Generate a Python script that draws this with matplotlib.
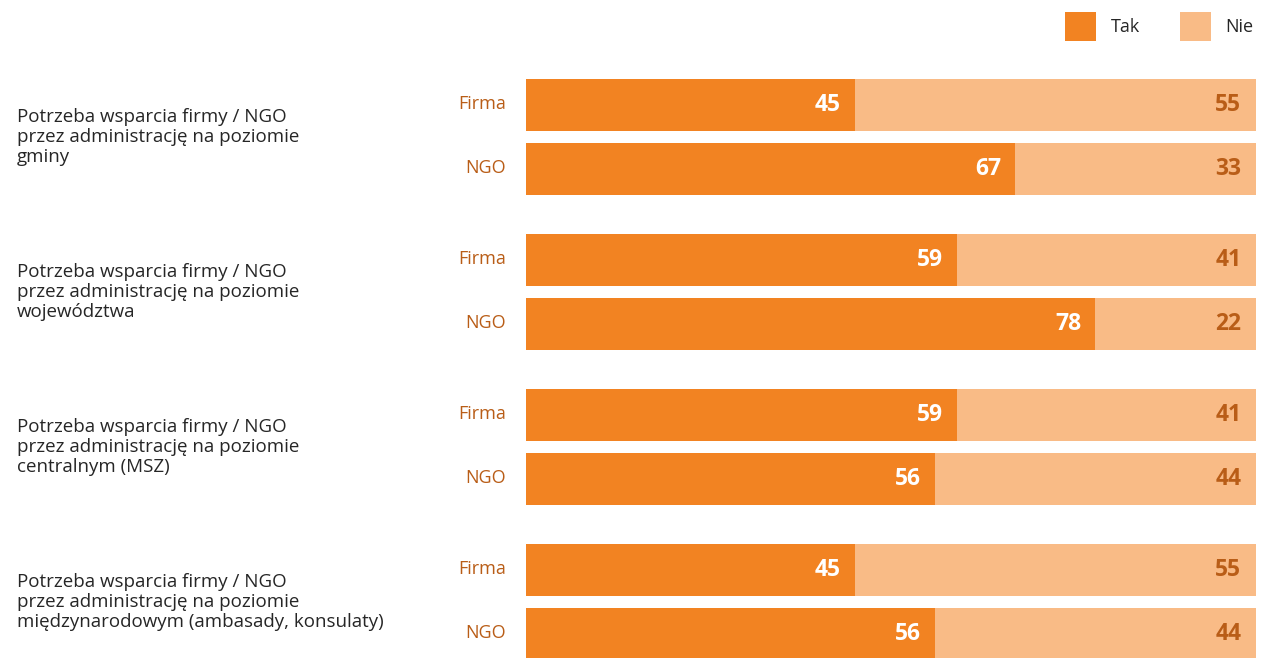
import matplotlib
matplotlib.use('Agg')
import matplotlib.pyplot as plt

# data
groups = [
    'Potrzeba wsparcia firmy / NGO\nprzez administrację na poziomie\ngminy',
    'Potrzeba wsparcia firmy / NGO\nprzez administrację na poziomie\nwojewództwa',
    'Potrzeba wsparcia firmy / NGO\nprzez administrację na poziomie\ncentralnym (MSZ)',
    'Potrzeba wsparcia firmy / NGO\nprzez administrację na poziomie\nmiędzynarodowym (ambasady, konsulaty)',
]
row_labels = ['Firma', 'NGO']
tak = [[45, 67], [59, 78], [59, 56], [45, 56]]
nie = [[55, 33], [41, 22], [41, 44], [55, 44]]
series_names = ['Tak', 'Nie']

DARK = '#F28322'
LIGHT = '#F9BB86'
LABEL_COL = '#B95D17'
TEXT_COL = '#262626'

plt.rcParams['font.family'] = ['Open Sans', 'DejaVu Sans']

W, H = 1265, 658
fig = plt.figure(figsize=(W / 100, H / 100), dpi=100)
ax = fig.add_axes((526 / W, 0, 730 / W, 1))
ax.set_xlim(0, 100)
ax.set_ylim(H, 0)
ax.set_axis_off()

bar_h = 52
for g, name in enumerate(groups):
    y0 = 105 + 155 * g
    for r, lab in enumerate(row_labels):
        y = y0 + 64 * r
        t, n = tak[g][r], nie[g][r]
        ax.barh(y, t, height=bar_h, color=DARK, label=series_names[0] if g == r == 0 else None)
        ax.barh(y, n, left=t, height=bar_h, color=LIGHT, label=series_names[1] if g == r == 0 else None)
        ax.text(t - 1.9, y, str(t), ha='right', va='center', color='white',
                fontsize=16.5, fontweight='bold')
        ax.text(100 - 2.0, y, str(n), ha='right', va='center', color=LABEL_COL,
                fontsize=16.5, fontweight='bold')
        ax.text(-2.7, y - 1, lab, ha='right', va='center', color=LABEL_COL, fontsize=13)
    fig.text(17 / W, 1 - (y0 + 32) / H, name, ha='left', va='center', color=TEXT_COL,
             fontsize=13.5, linespacing=1.16)

handles, labels = ax.get_legend_handles_labels()
fig.legend(handles, labels, ncol=2, loc='upper right', bbox_to_anchor=(1270 / W, 1 + 4 / H),
           frameon=False, handlelength=1.72, handleheight=2.1, handletextpad=0.83,
           columnspacing=2.17, fontsize=13, labelcolor=TEXT_COL)

fig.savefig('out.png', dpi=100)
